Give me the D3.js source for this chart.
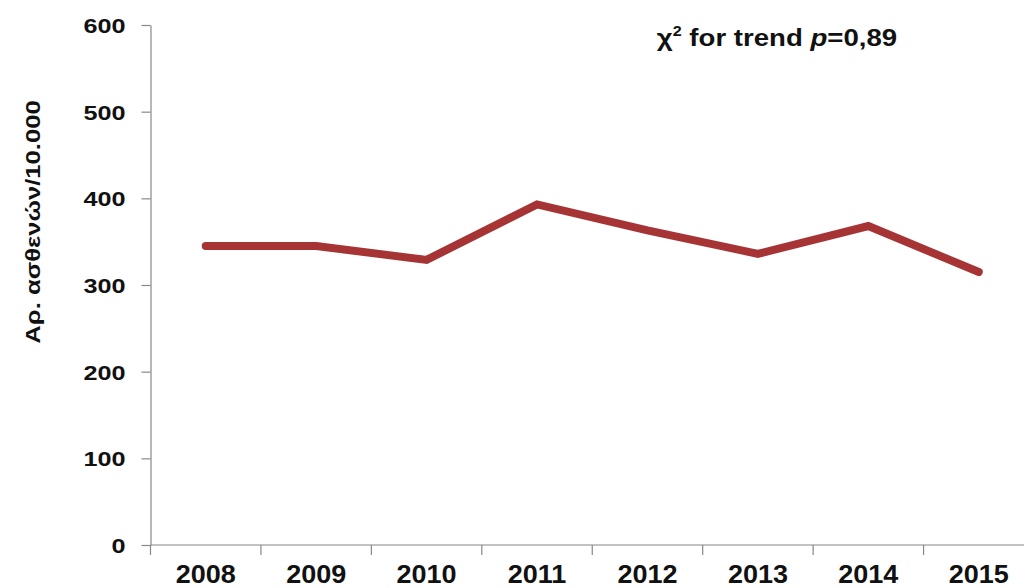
<!DOCTYPE html>
<html>
<head>
<meta charset="utf-8">
<script src="https://cdn.jsdelivr.net/npm/d3@7"></script>
<style>
  html, body { margin: 0; padding: 0; background: #fff; }
  svg { display: block; }
  text { font-family: "Liberation Sans", Arial, sans-serif; font-weight: bold; fill: #111; }
</style>
</head>
<body>
<svg id="chart" width="1024" height="588"></svg>
<script>
const years = ["2008", "2009", "2010", "2011", "2012", "2013", "2014", "2015"];
const values = [345, 345, 329, 393, 363, 336, 368, 315];
const yTicks = [0, 100, 200, 300, 400, 500, 600];
const yLabel = "Αρ. ασθενών/10.000";

(function () {
const svg = d3.select("#chart");
const W = 1024;
const mLeft = 150.5, mRight = 1034, mTop = 25, mBottom = 545;

const x = d3.scaleBand().domain(years).range([mLeft, mRight]).padding(0);
const y = d3.scaleLinear().domain([0, 600]).range([mBottom, mTop]);

// Y axis
const yAxis = svg.append("g").attr("transform", `translate(${mLeft},0)`)
  .call(d3.axisLeft(y).tickValues(yTicks).tickSize(9).tickPadding(16).tickSizeOuter(0));
yAxis.select(".domain").attr("stroke", "#888").attr("stroke-width", 1.2);
yAxis.selectAll(".tick line").attr("stroke", "#888").attr("stroke-width", 1.2);
yAxis.selectAll(".tick text")
  .attr("x", 0)
  .attr("transform", "translate(-25,0) scale(1.2,1)")
  .style("font-size", "21px").style("font-family", "Liberation Sans, Arial, sans-serif")
  .style("font-weight", "bold").attr("fill", "#111").attr("dy", "0.36em");

// X axis
const xAxisG = svg.append("g").attr("transform", `translate(0,${mBottom})`);
xAxisG.append("line").attr("x1", mLeft).attr("x2", W).attr("y1", 0).attr("y2", 0)
  .attr("stroke", "#888").attr("stroke-width", 1.2);
xAxisG.selectAll("line.tk").data(years).join("line").attr("class", "tk")
  .attr("x1", d => x(d)).attr("x2", d => x(d)).attr("y1", 0).attr("y2", 10)
  .attr("stroke", "#888").attr("stroke-width", 1.2);
xAxisG.selectAll("text.yl").data(years).join("text").attr("class", "yl")
  .attr("transform", d => `translate(${x(d) + x.bandwidth() / 2},38) scale(1.08,1)`)
  .attr("text-anchor", "middle").style("font-size", "25px").text(d => d);

// Line
const line = d3.line().x((d, i) => x(years[i]) + x.bandwidth() / 2).y(d => y(d));
svg.append("path").datum(values).attr("d", line)
  .attr("fill", "none").attr("stroke", "#a63434").attr("stroke-width", 8)
  .attr("stroke-linejoin", "miter").attr("stroke-linecap", "round");

// Y label
svg.append("text").attr("transform", "translate(40,222) rotate(-90) scale(1.22,1)")
  .attr("text-anchor", "middle").style("font-size", "21px").text(yLabel);

// Title
const title = svg.append("text").attr("transform", "translate(777,46) scale(1.15,1)")
  .attr("text-anchor", "middle").style("font-size", "24px");
title.append("tspan").text("χ");
title.append("tspan").attr("dy", -10).style("font-size", "14px").text("2");
title.append("tspan").attr("dy", 10).text(" for trend ");
title.append("tspan").style("font-style", "italic").text("p");
title.append("tspan").text("=0,89");
})();
</script>
</body>
</html>
